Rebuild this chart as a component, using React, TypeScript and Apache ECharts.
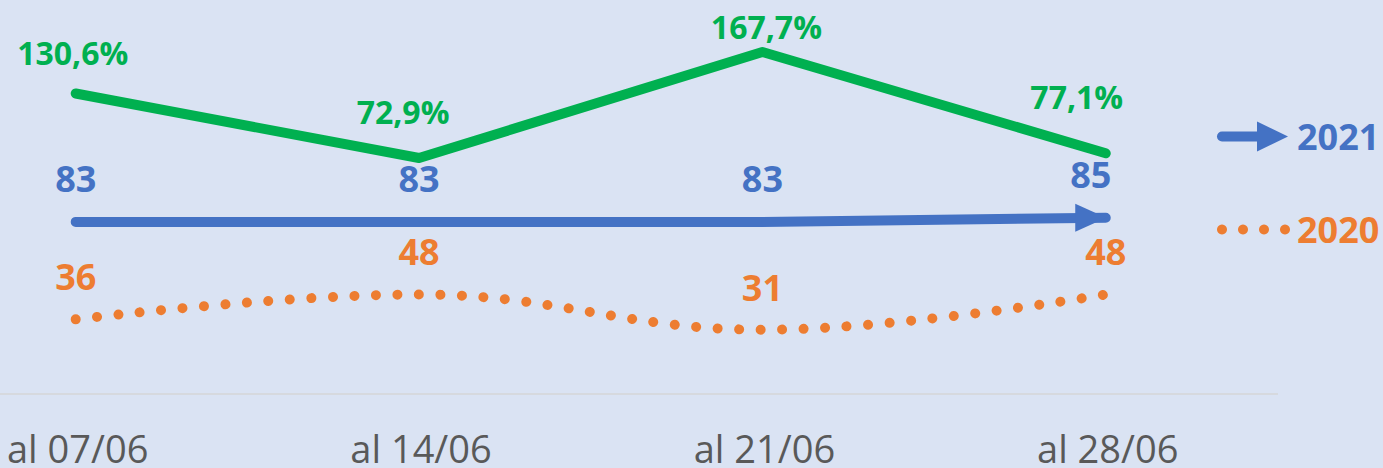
import React, { useEffect, useRef } from "react";
import * as echarts from "echarts";

const categories = ["al 07/06", "al 14/06", "al 21/06", "al 28/06"];
const values2021 = [83, 83, 83, 85];
const values2020 = [36, 48, 31, 48];
const growthPct = [130.6, 72.9, 167.7, 77.1];
// label offsets [dx, dy] for the growth labels (styling)
const growthLabelOffsets = [
  [-3, -24],
  [-16, -30],
  [4, -9],
  [-29, -40],
];

const BLUE = "#4472C4";
const ORANGE = "#ED7D31";
const GREEN = "#00B050";
const FONT = "'Open Sans', 'Noto Sans', sans-serif";

export default function App() {
  const ref = useRef<HTMLDivElement>(null);
  useEffect(() => {
    if (!ref.current) return;
    const chart = echarts.init(ref.current, undefined, { renderer: "svg" });
    const last = values2021.length - 1;
    chart.setOption({
      animation: false,
      backgroundColor: "#DAE3F3",
      textStyle: { fontFamily: FONT },
      grid: { left: 72.25, right: 277.25, top: 0, height: 394 },
      xAxis: {
        type: "category",
        data: categories,
        boundaryGap: false,
        axisLine: { show: false },
        axisTick: { show: false },
        axisLabel: {
          color: "#595959",
          fontSize: 38,
          lineHeight: 30,
          fontFamily: FONT,
          margin: 39,
          padding: [0, 0, 0, 4],
        },
      },
      yAxis: [
        { type: "value", min: 0, max: 190, show: false },
        { type: "value", min: -138.2, max: 214.2, show: false },
      ],
      series: [
        {
          name: "2020",
          type: "line",
          data: values2020,
          smooth: 0.4,
          symbol: "circle",
          symbolSize: 1,
          showAllSymbol: true,
          itemStyle: { color: ORANGE },
          lineStyle: {
            color: ORANGE,
            width: 10,
            type: [0.01, 21.5],
            cap: "round",
          },
          label: {
            show: true,
            position: "top",
            distance: 24,
            color: ORANGE,
            fontSize: 36,
            fontWeight: "bold",
            fontFamily: FONT,
          },
          z: 2,
        },
        {
          name: "2021",
          type: "line",
          data: values2021.map((v, i) =>
            i === last
              ? {
                  value: v,
                  symbol: "path://M0,0L1,0.5L0,1Z",
                  symbolSize: [31, 28],
                  symbolOffset: [-15, 0],
                  itemStyle: { color: BLUE, opacity: 1 },
                  label: { distance: 11 },
                }
              : { value: v, symbol: "circle", symbolSize: 1 }
          ),
          showAllSymbol: true,
          lineStyle: { color: BLUE, width: 10, cap: "round" },
          itemStyle: { color: BLUE, borderWidth: 0 },
          label: {
            show: true,
            position: "top",
            distance: 25,
            color: BLUE,
            fontSize: 36,
            fontWeight: "bold",
            fontFamily: FONT,
          },
          z: 3,
        },
        {
          name: "growth",
          type: "line",
          yAxisIndex: 1,
          data: growthPct.map((v, i) => ({
            value: v,
            label: { offset: growthLabelOffsets[i] },
          })),
          symbol: "circle",
          symbolSize: 1,
          showAllSymbol: true,
          itemStyle: { color: GREEN },
          lineStyle: { color: GREEN, width: 10, cap: "round", join: "round" },
          label: {
            show: true,
            position: "top",
            distance: 0,
            color: GREEN,
            fontSize: 32,
            fontWeight: "bold",
            fontFamily: FONT,
            formatter: (p: any) =>
              p.value.toFixed(1).replace(".", ",") + "%",
          },
          z: 4,
        },
      ],
      graphic: [
        {
          type: "line",
          shape: { x1: 0, y1: 394, x2: 1278, y2: 394 },
          style: { stroke: "#D6D9DE", lineWidth: 2 },
          z: 0,
        },
        {
          type: "line",
          shape: { x1: 1222, y1: 136.5, x2: 1262, y2: 136.5 },
          style: { stroke: BLUE, lineWidth: 10, lineCap: "round" },
        },
        {
          type: "polygon",
          shape: { points: [[1257, 121.5], [1288, 136.5], [1257, 151.5]] },
          style: { fill: BLUE },
        },
        {
          type: "text",
          x: 1297,
          y: 136.5,
          style: {
            text: "2021",
            fill: BLUE,
            font: `bold 36px ${FONT}`,
            verticalAlign: "middle",
            align: "left",
          },
        },
        ...[1222, 1243, 1264, 1285].map((cx) => ({
          type: "circle",
          shape: { cx, cy: 229.5, r: 5 },
          style: { fill: ORANGE },
        })),
        {
          type: "text",
          x: 1297,
          y: 229.5,
          style: {
            text: "2020",
            fill: ORANGE,
            font: `bold 36px ${FONT}`,
            verticalAlign: "middle",
            align: "left",
          },
        },
      ],
    });
    return () => chart.dispose();
  }, []);
  return (
    <div
      ref={ref}
      style={{ position: "absolute", left: 0, top: 0, width: 1383, height: 468 }}
    />
  );
}
